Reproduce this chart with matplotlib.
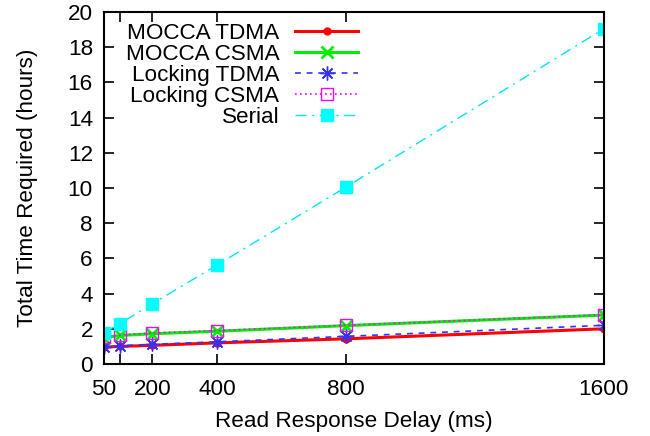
import matplotlib
matplotlib.use('Agg')
import matplotlib.pyplot as plt

plt.rcParams['font.family'] = ['Liberation Sans', 'DejaVu Sans']

# read response delay (ms)
delay = [50, 100, 200, 400, 800, 1600]

# total time required (hours)
mocca_tdma = [0.96, 1.0, 1.06, 1.2, 1.43, 2.0]
mocca_csma = [1.5, 1.62, 1.72, 1.86, 2.18, 2.78]
locking_tdma = [0.98, 1.04, 1.12, 1.26, 1.57, 2.2]
locking_csma = [1.53, 1.65, 1.76, 1.9, 2.2, 2.8]
serial = [1.78, 2.3, 3.42, 5.62, 10.05, 19.05]

xtick_vals = [50, 100, 200, 400, 800, 1600]
xtick_labels = ['50', '', '200', '400', '800', '1600']
ytick_vals = list(range(0, 21, 2))

fs = 16.2

fig = plt.figure(figsize=(6.5, 4.36), dpi=100)
ax = fig.add_axes([104 / 650, 1 - 364 / 436, 500 / 650, 352 / 436])

ax.plot(delay, mocca_tdma, color='#ff0000', lw=2.2, marker='o', ms=5,
        label='MOCCA TDMA')
ax.plot(delay, mocca_csma, color='#00ee00', lw=2.2, marker='x', ms=9, mew=2,
        label='MOCCA CSMA')
ax.plot(delay, locking_tdma, color='#3333ff', lw=1.2, ls=(0, (3.5, 3.5)),
        marker=(8, 2, 0), ms=10, mew=1, label='Locking TDMA')
ax.plot(delay, locking_csma, color='#ff00ff', lw=1.2, ls=(0, (1, 2)),
        marker='s', ms=9, mfc='none', mew=1, label='Locking CSMA')
ax.plot(delay, serial, color='#00e5ee', lw=1.0, ls=(0, (8, 4, 1.5, 4)),
        marker='s', ms=9, mec='#00ffff', mfc='#00ffff', label='Serial')

ax.set_xlim(50, 1600)
ax.set_ylim(0, 20)
ax.set_xticks(xtick_vals)
ax.set_xticklabels(xtick_labels)
ax.set_yticks(ytick_vals)

ax.tick_params(direction='in', length=7, width=1.2, top=True, right=True,
               labelsize=fs, pad=8)
ax.tick_params(axis='x', pad=11)
for s in ax.spines.values():
    s.set_linewidth(1.5)

ax.set_xlabel('Read Response Delay (ms)', fontsize=fs, labelpad=8)
ax.set_ylabel('Total Time Required (hours)', fontsize=fs, labelpad=21)

leg = ax.legend(loc='upper right', bbox_to_anchor=(0.508, 0.968),
                frameon=False, markerfirst=False, fontsize=fs,
                labelspacing=0.0, handlelength=2.8, handletextpad=0.7,
                borderpad=0, borderaxespad=0)

fig.savefig('out.png', dpi=100)
